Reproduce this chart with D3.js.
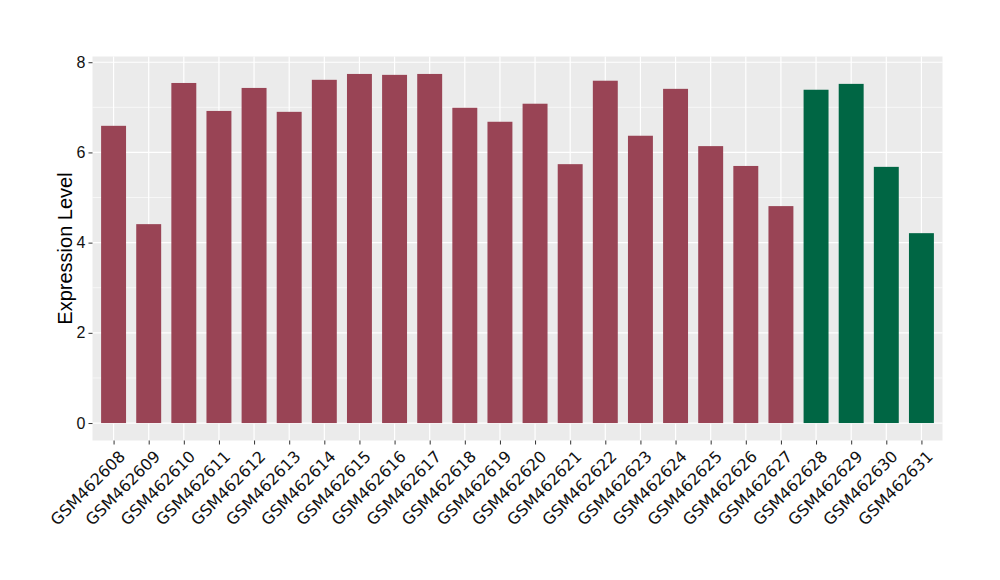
<!DOCTYPE html>
<html>
<head>
<meta charset="utf-8">
<script src="https://cdn.jsdelivr.net/npm/d3@7"></script>
<style>
  body { margin: 0; background: #fff; }
</style>
</head>
<body>
<div id="chart"></div>
<script>
const samples = ["GSM462608", "GSM462609", "GSM462610", "GSM462611", "GSM462612", "GSM462613",
    "GSM462614", "GSM462615", "GSM462616", "GSM462617", "GSM462618", "GSM462619",
    "GSM462620", "GSM462621", "GSM462622", "GSM462623", "GSM462624", "GSM462625",
    "GSM462626", "GSM462627", "GSM462628", "GSM462629", "GSM462630", "GSM462631"];
const values = [6.59, 4.41, 7.54, 6.92, 7.43, 6.90, 7.61, 7.74, 7.72, 7.74, 6.99, 6.68,
    7.08, 5.74, 7.59, 6.37, 7.41, 6.14, 5.70, 4.81, 7.39, 7.52, 5.68, 4.21];
const groups = ["a", "a", "a", "a", "a", "a", "a", "a", "a", "a", "a", "a",
    "a", "a", "a", "a", "a", "a", "a", "a", "b", "b", "b", "b"];
const yTicks = [0, 2, 4, 6, 8];
const yMinor = [1, 3, 5, 7];

const width = 1000, height = 580;
const mLeft = 92.5, mRight = 942.5, mTop = 56.5, mBottom = 440.5;

const svg = d3.select("#chart").append("svg")
    .attr("width", width)
    .attr("height", height);

const color = d3.scaleOrdinal().domain(["a", "b"]).range(["#994455", "#006644"]);

// ggplot style expansion: 5% of range on y, 0.6 band on x
const vmax = d3.max(values);
const y = d3.scaleLinear()
    .domain([-vmax * 0.05, vmax * 1.05])
    .range([mBottom, mTop]);

const step = (mRight - mLeft) / (samples.length - 1 + 1.2);
const x = d3.scalePoint()
    .domain(samples)
    .range([mLeft + 0.6 * step, mRight - 0.6 * step]);
const barW = step * 0.71;

svg.append("rect")
    .attr("x", mLeft).attr("y", mTop)
    .attr("width", mRight - mLeft).attr("height", mBottom - mTop)
    .attr("fill", "#ebebeb");

svg.selectAll("line.minor")
    .data(yMinor)
    .enter()
    .append("line")
    .attr("x1", mLeft).attr("x2", mRight)
    .attr("y1", d => y(d)).attr("y2", d => y(d))
    .attr("stroke", "#fff").attr("stroke-width", 0.6);

svg.selectAll("line.major")
    .data(yTicks)
    .enter()
    .append("line")
    .attr("x1", mLeft).attr("x2", mRight)
    .attr("y1", d => y(d)).attr("y2", d => y(d))
    .attr("stroke", "#fff").attr("stroke-width", 1.2);

svg.selectAll("line.vgrid")
    .data(samples)
    .enter()
    .append("line")
    .attr("x1", d => x(d)).attr("x2", d => x(d))
    .attr("y1", mTop).attr("y2", mBottom)
    .attr("stroke", "#fff").attr("stroke-width", 1.2);

svg.selectAll("rect.bar")
    .data(values)
    .enter()
    .append("rect")
    .attr("x", (d, i) => x(samples[i]) - barW / 2)
    .attr("y", d => y(d))
    .attr("width", barW)
    .attr("height", d => y(0) - y(d))
    .attr("fill", (d, i) => color(groups[i]));

// y axis
const yAxis = svg.append("g")
    .attr("transform", `translate(${mLeft},0)`)
    .call(d3.axisLeft(y).tickValues(yTicks).tickSize(4).tickPadding(3));
yAxis.select(".domain").remove();
yAxis.selectAll(".tick line").attr("stroke", "#333").attr("stroke-width", 1);
yAxis.selectAll(".tick text")
    .attr("fill", "#111")
    .style("font-family", "'Liberation Sans', Arial, sans-serif")
    .style("font-size", "16px");

// x axis
const xAxis = svg.append("g")
    .attr("transform", `translate(0,${mBottom})`)
    .call(d3.axisBottom(x).tickSize(4).tickPadding(3));
xAxis.select(".domain").remove();
xAxis.selectAll(".tick line").attr("stroke", "#333").attr("stroke-width", 1);
xAxis.selectAll(".tick text")
    .attr("fill", "#111")
    .attr("text-anchor", "end")
    .attr("y", 0)
    .attr("dy", "0")
    .attr("transform", "translate(12,17) rotate(-45)")
    .style("font-family", "'DejaVu Sans', sans-serif")
    .style("font-size", "16px");

svg.append("text")
    .attr("transform", `translate(72,${(mTop + mBottom) / 2}) rotate(-90)`)
    .attr("text-anchor", "middle")
    .style("font-family", "'Liberation Sans', Arial, sans-serif")
    .style("font-size", "20px")
    .attr("fill", "#000")
    .text("Expression Level");
</script>
</body>
</html>
